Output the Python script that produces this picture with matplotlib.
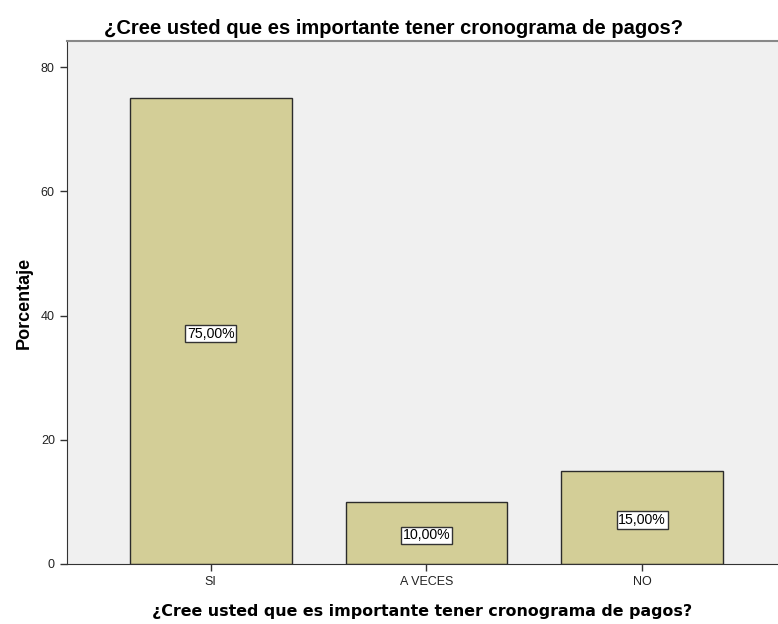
import matplotlib
matplotlib.use('Agg')
import matplotlib.pyplot as plt

categories = ["SI", "A VECES", "NO"]
percentages = [75.0, 10.0, 15.0]
labels = ["75,00%", "10,00%", "15,00%"]

fig = plt.figure(figsize=(7.78, 6.24), dpi=100)
ax = fig.add_axes([0.0857, 0.0962, 0.9143, 0.8378])
ax.set_facecolor('#f0f0f0')

x = list(range(len(categories)))
ax.bar(x, percentages, width=0.75, color='#d3ce97', edgecolor='#2b2b2b', linewidth=1.0, zorder=2)

# value labels in boxes at half height
for xi, v, lab in zip(x, percentages, labels):
    ax.text(xi, v / 2 - 0.4, lab, ha='center', va='center', fontsize=10.2, family='Liberation Sans',
            bbox=dict(boxstyle='square,pad=0.12', facecolor='white', edgecolor='#333333', linewidth=1.0),
            zorder=3)

ax.set_xlim(-0.668, 2.63)
ax.set_ylim(0, 84.2)
ax.set_yticks([0, 20, 40, 60, 80])
ax.set_xticks(x)
ax.set_xticklabels(categories)
for t in ax.get_xticklabels() + ax.get_yticklabels():
    t.set_family('Liberation Sans')
    t.set_fontsize(9)
ax.tick_params(axis='both', length=5, width=1, color='#333333', labelcolor='#222222')

ax.spines['right'].set_visible(False)
ax.spines['top'].set_color('#888888')
ax.spines['top'].set_linewidth(1.5)
ax.spines['left'].set_color('#333333')
ax.spines['bottom'].set_color('#333333')

ax.set_ylabel('Porcentaje', fontsize=13, fontweight='bold', family='Liberation Sans', labelpad=6)
ax.set_xlabel('¿Cree usted que es importante tener cronograma de pagos?', fontsize=11.4,
              fontweight='bold', family='DejaVu Sans', labelpad=12)
fig.suptitle('¿Cree usted que es importante tener cronograma de pagos?', x=0.506, y=0.97,
             fontsize=14.5, fontweight='bold', family='Liberation Sans')

fig.savefig('out.png', dpi=100)
